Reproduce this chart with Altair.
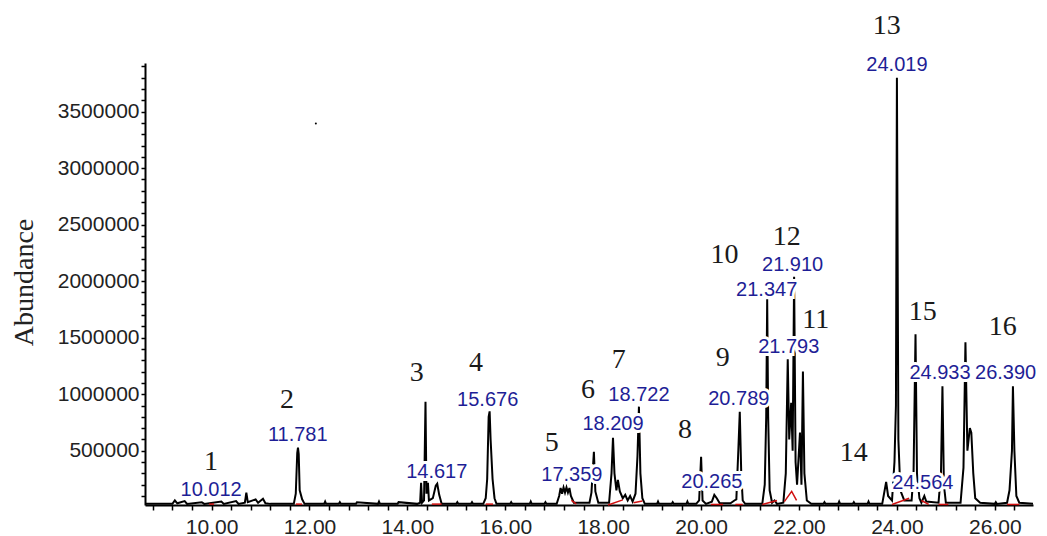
import altair as alt
import pandas as pd

# ---- chromatogram trace (retention time in min, abundance) ----
trace_rt = [8.64, 9.0, 9.2, 9.25, 9.3, 9.45, 9.5, 9.8, 9.85, 10.2, 10.25, 10.5, 10.55,
            10.68, 10.71, 10.74, 10.9, 10.95, 11.05, 11.1, 11.2,
            11.68, 11.72, 11.75, 11.765, 11.78, 11.8, 11.85, 11.9,
            12.3, 12.32, 12.34, 12.6, 12.62, 12.64, 12.95, 12.97, 13.4, 13.42, 13.44, 13.8, 13.82,
            14.2, 14.26, 14.28, 14.3, 14.34, 14.37, 14.39, 14.42, 14.44, 14.52, 14.58, 14.61, 14.65, 14.7,
            15.0, 15.02, 15.04, 15.3, 15.32, 15.34,
            15.55, 15.6, 15.63, 15.66, 15.68, 15.7, 15.74, 15.78, 15.82,
            16.1, 16.12, 16.14, 16.5, 16.52, 16.54, 16.8, 16.82, 16.84,
            17.05, 17.1, 17.13, 17.16, 17.19, 17.22, 17.25, 17.28, 17.31, 17.34, 17.4,
            17.72, 17.76, 17.81, 17.84, 17.9,
            18.12, 18.17, 18.2, 18.23, 18.27, 18.3, 18.34, 18.4, 18.45, 18.5, 18.55, 18.6,
            18.66, 18.7, 18.73, 18.76, 18.8, 18.85,
            19.1, 19.12, 19.14, 19.4, 19.42, 19.44, 19.7, 19.72, 19.74,
            19.9, 19.96, 20.0, 20.03, 20.1, 20.22, 20.27, 20.32, 20.38,
            20.6, 20.68, 20.72, 20.76, 20.79, 20.82, 20.85, 20.9,
            21.25, 21.3, 21.33, 21.35, 21.37, 21.4, 21.45, 21.5, 21.55,
            21.68, 21.73, 21.77, 21.8, 21.84, 21.87, 21.9, 21.93, 21.96, 22.02, 22.05, 22.08, 22.11, 22.16, 22.25,
            22.5, 22.52, 22.54, 22.8, 22.82, 22.84, 23.1, 23.12, 23.14, 23.4, 23.42, 23.44,
            23.7, 23.78, 23.82, 23.9, 23.95, 23.98, 24.0, 24.03, 24.07, 24.15,
            24.3, 24.34, 24.38, 24.41, 24.46, 24.5, 24.56, 24.6,
            24.85, 24.9, 24.93, 24.96, 25.0,
            25.3, 25.36, 25.4, 25.44, 25.49, 25.52, 25.56, 25.6, 25.7,
            26.0, 26.02, 26.04,
            26.25, 26.3, 26.35, 26.37, 26.4, 26.44, 26.5, 26.78]
trace_ab = [30000, 30000, 30000, 60000, 35000, 55000, 30000, 45000, 30000, 50000, 30000, 55000, 30000,
            40000, 130000, 45000, 70000, 40000, 75000, 35000, 30000,
            30000, 120000, 480000, 527000, 470000, 150000, 70000, 30000,
            30000, 50000, 30000, 30000, 45000, 30000, 30000, 45000, 30000, 50000, 30000, 30000, 45000,
            30000, 40000, 216000, 40000, 60000, 934000, 120000, 216000, 60000, 80000, 190000, 208000, 110000, 30000,
            30000, 45000, 30000, 30000, 45000, 30000,
            30000, 80000, 250000, 800000, 848000, 600000, 250000, 80000, 30000,
            30000, 45000, 30000, 30000, 50000, 30000, 30000, 45000, 30000,
            30000, 100000, 170000, 120000, 175000, 130000, 175000, 130000, 170000, 100000, 40000,
            40000, 130000, 490000, 140000, 40000,
            40000, 300000, 615000, 300000, 150000, 243000, 140000, 80000, 110000, 60000, 100000, 50000,
            120000, 450000, 890000, 300000, 80000, 30000,
            30000, 50000, 30000, 30000, 45000, 30000, 30000, 50000, 30000,
            30000, 60000, 447000, 60000, 30000, 50000, 110000, 80000, 35000,
            35000, 60000, 70000, 500000, 845000, 300000, 60000, 30000,
            30000, 200000, 800000, 1840000, 800000, 150000, 40000, 60000, 30000,
            40000, 300000, 1310000, 600000, 925000, 500000, 2040000, 400000, 200000, 660000, 200000, 1200000, 300000, 60000, 30000,
            30000, 45000, 30000, 30000, 50000, 30000, 30000, 45000, 30000, 30000, 50000, 30000,
            30000, 225000, 100000, 60000, 400000, 900000, 3800000, 600000, 150000, 60000,
            60000, 300000, 1530000, 300000, 80000, 40000, 100000, 50000,
            40000, 300000, 1070000, 200000, 40000,
            40000, 350000, 1460000, 500000, 700000, 660000, 300000, 80000, 40000,
            30000, 45000, 30000,
            40000, 150000, 500000, 1070000, 500000, 100000, 40000, 30000]

# ---- red integration baselines ----
base_seg = [1, 1, 2, 2, 3, 3, 4, 4, 5, 5, 6, 6, 7, 7, 8, 8, 9, 9, 10, 10,
            11, 11, 11, 12, 12, 13, 13, 14, 14, 15, 15]
base_rt = [9.95, 10.05, 11.72, 11.85, 14.5, 14.7, 15.6, 15.75, 17.35, 17.45, 18.1, 18.4,
           18.62, 18.8, 20.2, 20.45, 20.7, 20.85, 21.25, 21.55,
           21.7, 21.85, 21.95, 23.9, 24.25, 24.5, 24.65, 24.85, 25.05, 26.25, 26.5]
base_ab = [28000, 28000, 28000, 28000, 28000, 28000, 28000, 28000, 60000, 30000, 20000, 65000,
           40000, 55000, 25000, 25000, 25000, 25000, 25000, 60000,
           50000, 140000, 60000, 25000, 80000, 60000, 25000, 25000, 25000, 25000, 25000]

# ---- peak number labels (black) ----
num_text = ["1", "2", "3", "4", "5", "6", "7", "8", "9", "10", "12", "11", "13", "14", "15", "16"]
num_rt = [9.99, 11.54, 14.19, 15.40, 16.95, 17.69, 18.32, 19.67, 20.44, 20.48, 21.75, 22.34,
          23.79, 23.12, 24.53, 26.16]
num_ab = [402000, 951000, 1190000, 1279000, 571000, 1040000, 1305000, 686000, 1323000,
          2235000, 2394000, 1659000, 4261000, 482000, 1730000, 1597000]

# ---- retention time labels (blue) ----
rt_text = ["10.012", "11.781", "14.617", "15.676", "17.359", "18.209", "18.722", "20.265",
           "20.789", "21.347", "21.910", "21.793", "24.019", "24.564", "24.933", "26.390"]
rt_rt = [9.99, 11.76, 14.60, 15.64, 17.36, 18.20, 18.73, 20.22, 20.77, 21.34, 21.87, 21.79,
         24.00, 24.53, 24.88, 26.22]
rt_ab = [155000, 642000, 314000, 951000, 288000, 739000, 996000, 226000, 960000, 1925000,
         2146000, 1420000, 3916000, 217000, 1190000, 1190000]

# stray dot
dot_rt = [12.13]
dot_ab = [3394000]

x_ticks = [8.8, 9.2, 9.6, 10.0, 10.4, 10.8, 11.2, 11.6, 12.0, 12.4, 12.8, 13.2, 13.6, 14.0,
           14.4, 14.8, 15.2, 15.6, 16.0, 16.4, 16.8, 17.2, 17.6, 18.0, 18.4, 18.8, 19.2, 19.6,
           20.0, 20.4, 20.8, 21.2, 21.6, 22.0, 22.4, 22.8, 23.2, 23.6, 24.0, 24.4, 24.8, 25.2,
           25.6, 26.0, 26.4]
y_ticks = [i * 100000 for i in range(1, 40)]

trace = pd.DataFrame({"rt": trace_rt, "ab": trace_ab})
base = pd.DataFrame({"seg": base_seg, "rt": base_rt, "ab": base_ab})
nums = pd.DataFrame({"t": num_text, "rt": num_rt, "ab": num_ab})
rts = pd.DataFrame({"t": rt_text, "rt": rt_rt, "ab": rt_ab})
dots = pd.DataFrame({"rt": dot_rt, "ab": dot_ab})

xs = alt.Scale(domain=[8.64, 26.78], nice=False, zero=False)
ys = alt.Scale(domain=[20000, 3930000], nice=False, zero=False)

x_axis = alt.Axis(values=x_ticks, tickCount=200,
                  labelExpr="abs(datum.value % 2) < 0.001 ? format(datum.value, '.2f') : ''",
                  title=None, grid=False, domainColor="black", domainWidth=2, tickColor="black",
                  tickWidth=1.5, tickSize=5, labelFont="Liberation Sans", labelFontSize=21,
                  labelColor="#222222", labelPadding=6, labelOverlap=False, labelFlush=False)
y_axis = alt.Axis(values=y_ticks, tickCount=200,
                  labelExpr="datum.value % 500000 == 0 ? format(datum.value, 'd') : ''",
                  title="Abundance", grid=False, domainColor="black", domainWidth=2, tickColor="black",
                  tickWidth=1.5, tickSize=4, labelFont="Liberation Sans", labelFontSize=21,
                  labelColor="#222222", labelPadding=2, labelOverlap=False, labelFlush=False,
                  titleFont="Liberation Serif", titleFontSize=28, titleFontWeight="normal",
                  titleColor="#222222", titleAngle=270, titleX=-121, titleY=219,
                  titleAlign="center", titleBaseline="middle")

line = alt.Chart(trace).mark_line(color="black", strokeWidth=2, interpolate="linear").encode(
    x=alt.X("rt:Q", scale=xs, axis=x_axis),
    y=alt.Y("ab:Q", scale=ys, axis=y_axis),
)
redline = alt.Chart(base).mark_line(color="#d01010", strokeWidth=1.5).encode(
    x=alt.X("rt:Q", scale=xs), y=alt.Y("ab:Q", scale=ys), detail="seg:N"
)
dot = alt.Chart(dots).mark_point(filled=True, color="black", size=4, opacity=1).encode(
    x=alt.X("rt:Q", scale=xs), y=alt.Y("ab:Q", scale=ys)
)

def texts(df, font, size, color):
    halo = alt.Chart(df).mark_text(font=font, fontSize=size, fill="white", stroke="white",
                                   strokeWidth=6, align="center", baseline="middle").encode(
        x=alt.X("rt:Q", scale=xs), y=alt.Y("ab:Q", scale=ys), text="t:N")
    txt = alt.Chart(df).mark_text(font=font, fontSize=size, color=color,
                                  align="center", baseline="middle").encode(
        x=alt.X("rt:Q", scale=xs), y=alt.Y("ab:Q", scale=ys), text="t:N")
    return halo, txt

rh, rtx = texts(rts, "Liberation Sans", 20, "#1e1e96")
nh, ntx = texts(nums, "Liberation Serif", 28, "#1a1a1a")

chart = alt.layer(line, redline, dot, rh, nh, rtx, ntx).properties(
    width=888, height=442,
    autosize=alt.AutoSizeParams(type="none"),
    padding={"left": 137, "top": 55, "right": 6, "bottom": 31},
).configure(background="white").configure_view(strokeWidth=0)

chart.save("out.html", embed_options={"renderer": "svg", "actions": False})
